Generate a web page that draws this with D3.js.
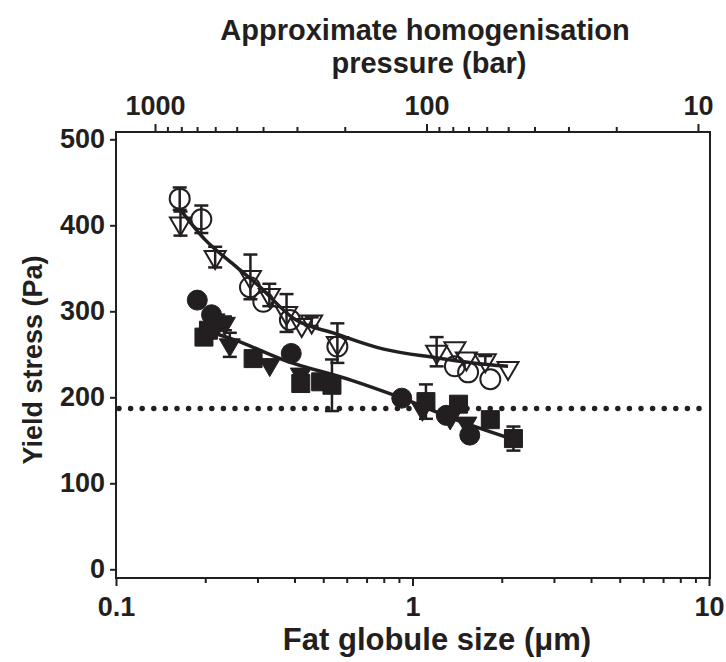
<!DOCTYPE html>
<html>
<head>
<meta charset="utf-8">
<script src="https://cdn.jsdelivr.net/npm/d3@7"></script>
<style>
  body { margin: 0; background: #fff; }
  text { font-family: "Liberation Sans", Arial, sans-serif; font-weight: bold; fill: #231f20; }
</style>
</head>
<body>
<div class="chart"></div>
<script>
// ============================================================================
// Data
// ============================================================================

// open circles
var openCircleX = [0.164, 0.194, 0.283, 0.314, 0.386, 0.558, 1.39, 1.54, 1.83];
var openCircleY = [431, 407, 328, 311, 290, 259, 236, 229, 221];
var openCircleErr = [13, 16, 0, 0, 0, 0, 0, 0, 0];

// open triangles
var openTriX = [0.165, 0.216, 0.284, 0.329, 0.376, 0.423, 0.457, 0.558, 1.206, 1.39, 1.52, 1.76, 2.10];
var openTriY = [402, 363, 340, 319, 298, 284, 288, 263, 253, 257, 245, 243, 234];
var openTriErr = [14, 12, 26, 13, 22, 0, 5, 23, 17, 0, 0, 5, 0];

// filled circles
var fillCircleX = [0.188, 0.21, 0.215, 0.39, 0.92, 1.30, 1.56];
var fillCircleY = [313, 296, 285, 251, 199, 179, 156];
var fillCircleErr = [0, 0, 0, 0, 0, 0, 0];

// filled squares
var fillSquareX = [0.198, 0.205, 0.29, 0.42, 0.49, 0.535, 1.11, 1.43, 1.83, 2.19];
var fillSquareY = [270, 278, 245, 216, 218, 214, 195, 192, 174, 152];
var fillSquareErr = [0, 0, 0, 0, 0, 30, 20, 0, 0, 14];

// filled triangles
var fillTriX = [0.215, 0.233, 0.242, 0.33, 0.42, 1.08, 1.34, 1.52];
var fillTriY = [290, 286, 261, 238, 227, 186, 176, 170];
var fillTriErr = [0, 8, 14, 0, 0, 0, 0, 0];

// fitted curves
var openFitX = [0.165, 0.2, 0.25, 0.3, 0.4, 0.55, 0.8, 1.2, 1.6, 2.1];
var openFitY = [418, 383, 354, 331, 291, 274, 256, 246, 240, 236];
var fillFitX = [0.19, 0.25, 0.37, 0.62, 0.89, 1.45, 2.1];
var fillFitY = [280, 267, 243, 220, 201, 172, 153];

// dotted reference level
var refLevel = 187;

// axes
var xMajor = [0.1, 1, 10];
var xMinor = [0.2, 0.3, 0.4, 0.5, 0.6, 0.7, 0.8, 0.9, 2, 3, 4, 5, 6, 7, 8, 9];
var pMajor = [1000, 100, 10];
var pMinor = [900, 800, 700, 600, 500, 400, 300, 200, 90, 80, 70, 60, 50, 40, 30, 20];
var yTicks = [0, 100, 200, 300, 400, 500];

// ============================================================================
// Create SVG
// ============================================================================

var svgWidth = 726;
var svgHeight = 662;
var ink = '#231f20';

var frame = { left: 116, right: 710, top: 132, bottom: 578 };

var svg = d3.select('.chart')
  .append('svg')
  .attr('width', svgWidth)
  .attr('height', svgHeight);

var xScale = d3.scaleLog().domain([0.1, 10]).range([116, 709]);
var pScale = d3.scaleLog().domain([1392, 9.03]).range([frame.left, frame.right]);
var yScale = d3.scaleLinear().domain([0, 500]).range([569.3, 139.3]);

// frame
svg.append('rect')
  .attr('x', frame.left)
  .attr('y', frame.top)
  .attr('width', frame.right - frame.left)
  .attr('height', frame.bottom - frame.top)
  .attr('fill', 'none')
  .attr('stroke', ink)
  .attr('stroke-width', 2);

function styleAxis(g) {
  g.select('.domain').remove();
  g.selectAll('line').attr('stroke', ink).attr('stroke-width', 2);
  g.selectAll('text').style('font-size', '27px').attr('fill', ink);
}

// bottom axis
svg.append('g')
  .attr('transform', `translate(0, ${frame.bottom})`)
  .call(d3.axisBottom(xScale).tickValues(xMinor).tickSize(5).tickFormat(''))
  .call(styleAxis);
svg.append('g')
  .attr('transform', `translate(0, ${frame.bottom})`)
  .call(d3.axisBottom(xScale).tickValues(xMajor).tickSize(8).tickPadding(11).tickFormat(d3.format('')))
  .call(styleAxis);

// top axis (pressure)
svg.append('g')
  .attr('transform', `translate(0, ${frame.top})`)
  .call(d3.axisTop(pScale).tickValues(pMinor).tickSize(5).tickFormat(''))
  .call(styleAxis);
svg.append('g')
  .attr('transform', `translate(0, ${frame.top})`)
  .call(d3.axisTop(pScale).tickValues(pMajor).tickSize(8).tickPadding(9).tickFormat(d3.format('')))
  .call(styleAxis);

// left axis
svg.append('g')
  .attr('transform', `translate(${frame.left}, 0)`)
  .call(d3.axisLeft(yScale).tickValues(yTicks).tickSize(6).tickPadding(5))
  .call(styleAxis);

// axis titles
svg.append('text')
  .attr('x', 425).attr('y', 40)
  .attr('text-anchor', 'middle')
  .style('font-size', '29px')
  .text('Approximate homogenisation');
svg.append('text')
  .attr('x', 429).attr('y', 73)
  .attr('text-anchor', 'middle')
  .style('font-size', '29px')
  .text('pressure (bar)');
svg.append('text')
  .attr('x', 437).attr('y', 650)
  .attr('text-anchor', 'middle')
  .style('font-size', '31px')
  .text('Fat globule size (μm)');
svg.append('text')
  .attr('transform', 'translate(42, 360) rotate(-90)')
  .attr('text-anchor', 'middle')
  .style('font-size', '27px')
  .text('Yield stress (Pa)');

// dotted line
svg.append('line')
  .attr('x1', frame.left + 3).attr('x2', frame.right - 2)
  .attr('y1', yScale(refLevel)).attr('y2', yScale(refLevel))
  .attr('stroke', ink)
  .attr('stroke-width', 5.5)
  .attr('stroke-linecap', 'round')
  .attr('stroke-dasharray', '0 11.6');

// fitted curves
var line = d3.line()
  .x(d => xScale(d[0]))
  .y(d => yScale(d[1]))
  .curve(d3.curveMonotoneX);

svg.append('path')
  .attr('d', line(d3.zip(openFitX, openFitY)))
  .attr('fill', 'none').attr('stroke', ink).attr('stroke-width', 3.5);
svg.append('path')
  .attr('d', line(d3.zip(fillFitX, fillFitY)))
  .attr('fill', 'none').attr('stroke', ink).attr('stroke-width', 3.5);

// ============================================================================
// Markers
// ============================================================================

var shapes = {
  circle: 'M10,0A10,10 0 1,1 -10,0A10,10 0 1,1 10,0Z',
  square: 'M-9,-9H9V9H-9Z',
  triangle: 'M-10.5,-6H10.5L0,12Z'
};

function drawSeries(xs, ys, errs, shape, filled) {
  var data = d3.zip(xs, ys, errs);
  var g = svg.append('g');

  // error bars
  var bars = g.selectAll('.err')
    .data(data.filter(d => d[2] > 0))
    .enter()
    .append('g')
    .attr('stroke', ink)
    .attr('stroke-width', 2.5);
  bars.append('line')
    .attr('x1', d => xScale(d[0])).attr('x2', d => xScale(d[0]))
    .attr('y1', d => yScale(d[1] - d[2])).attr('y2', d => yScale(d[1] + d[2]));
  [1, -1].forEach(function(s) {
    bars.append('line')
      .attr('x1', d => xScale(d[0]) - 7).attr('x2', d => xScale(d[0]) + 7)
      .attr('y1', d => yScale(d[1] + s * d[2])).attr('y2', d => yScale(d[1] + s * d[2]));
  });

  g.selectAll('.mark')
    .data(data)
    .enter()
    .append('path')
    .attr('d', shapes[shape])
    .attr('transform', d => `translate(${xScale(d[0])}, ${yScale(d[1])})`)
    .attr('fill', filled ? ink : 'none')
    .attr('stroke', ink)
    .attr('stroke-width', filled ? 1 : 2);
}

drawSeries(openCircleX, openCircleY, openCircleErr, 'circle', false);
drawSeries(openTriX, openTriY, openTriErr, 'triangle', false);
drawSeries(fillCircleX, fillCircleY, fillCircleErr, 'circle', true);
drawSeries(fillSquareX, fillSquareY, fillSquareErr, 'square', true);
drawSeries(fillTriX, fillTriY, fillTriErr, 'triangle', true);
</script>
</body>
</html>
